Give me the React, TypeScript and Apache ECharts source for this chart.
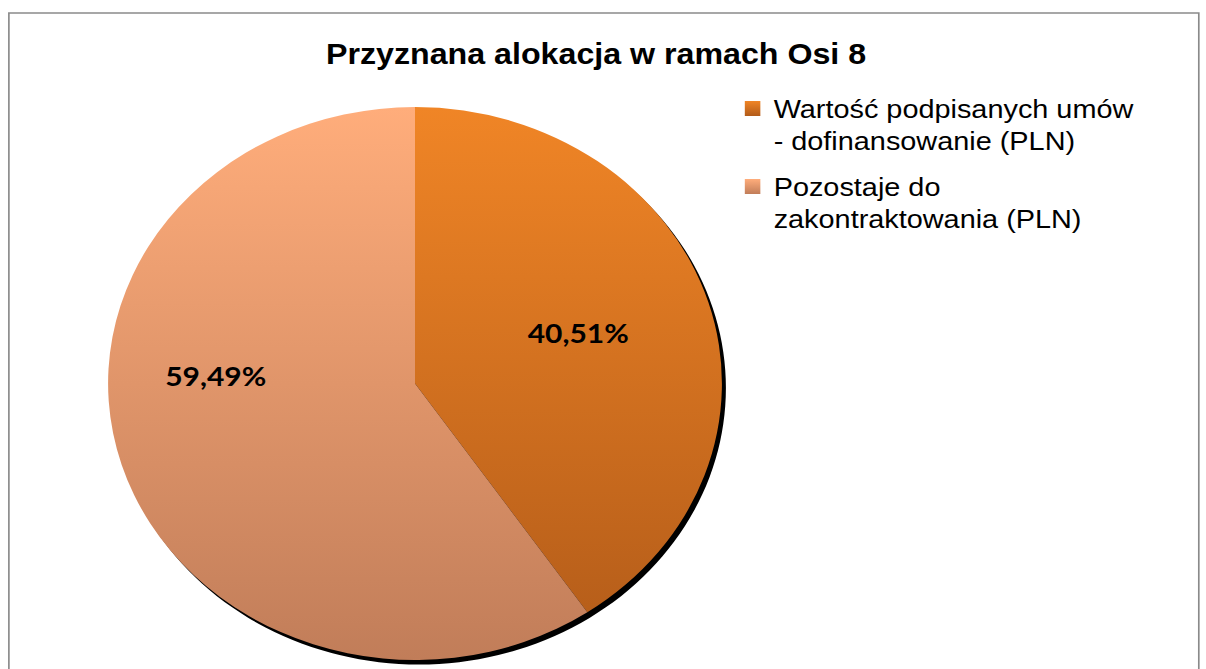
import React, { useEffect, useRef } from "react";
import * as echarts from "echarts";

// ---- data ----
const TITLE = "Przyznana alokacja w ramach Osi 8";
const CATEGORIES = [
  "Wartość podpisanych umów - dofinansowanie (PLN)",
  "Pozostaje do zakontraktowania (PLN)",
];
const LEGEND_LABELS = [
  "Wartość podpisanych umów\n- dofinansowanie (PLN)",
  "Pozostaje do\nzakontraktowania (PLN)",
];
const SHARES = [40.51, 59.49];

// ---- styling / layout ----
const PAGE_W = 1206;
const PAGE_H = 669;
const SX = 1.11; // reference image is horizontally stretched
const INNER_W = Math.round(PAGE_W / SX);
const CX = 415 / SX;
const CY = 383.5;
const R = 276.5;
const GRAD_TOP = CY - R;
const GRAD_BOTTOM = CY + R;
const SLICE_COLORS = [
  ["#F08526", "#B25B19"],
  ["#FFAD7B", "#C17D59"],
];
const LABEL_SHIFT = [
  [12, -9.9],
  [-44.5, -49],
];

function globalGrad(c: string[]) {
  return new echarts.graphic.LinearGradient(
    0, GRAD_TOP, 0, GRAD_BOTTOM,
    [{ offset: 0, color: c[0] }, { offset: 1, color: c[1] }],
    true
  );
}
function localGrad(c: string[]) {
  return new echarts.graphic.LinearGradient(0, 0, 0, 1, [
    { offset: 0, color: c[0] },
    { offset: 1, color: c[1] },
  ]);
}

export default function App() {
  const ref = useRef<HTMLDivElement>(null);
  useEffect(() => {
    document.body.style.margin = "0";
    if (!ref.current) return;
    const chart = echarts.init(ref.current, null, { renderer: "svg" });
    const labelMap: Record<string, string> = {};
    // leading blank line keeps the icon aligned with the first text line
    CATEGORIES.forEach((c, i) => (labelMap[c] = "\n" + LEGEND_LABELS[i]));
    chart.setOption({
      animation: false,
      backgroundColor: "#ffffff",
      title: {
        text: TITLE,
        left: 532,
        textAlign: "center",
        top: 34,
        textStyle: {
          fontFamily: "Liberation Sans, Arial, sans-serif",
          fontWeight: "bold",
          fontSize: 29,
          color: "#000",
        },
      },
      legend: {
        orient: "vertical",
        left: 666,
        top: 54,
        itemWidth: 14,
        itemHeight: 15,
        itemGap: -21,
        icon: "rect",
        data: CATEGORIES.map((name, i) => ({
          name,
          itemStyle: { color: localGrad(SLICE_COLORS[i]) },
        })),
        formatter: (name: string) => labelMap[name] || name,
        textStyle: {
          fontFamily: "Liberation Sans, Arial, sans-serif",
          fontSize: 26,
          lineHeight: 33,
          color: "#000",
          padding: [0, 0, 0, 7],
        },
        selectedMode: false,
      },
      graphic: [
        {
          type: "rect",
          z: -10,
          shape: { x: 8, y: 13, width: 1072, height: 720 },
          style: { fill: "none", stroke: "#8a8a8a", lineWidth: 1.5 },
        },
      ],
      series: [
        {
          type: "pie",
          name: "shadow",
          silent: true,
          z: 1,
          center: [CX + 4 / SX, CY + 4.5],
          radius: [0, R],
          label: { show: false },
          labelLine: { show: false },
          emphasis: { disabled: true },
          itemStyle: { color: "#000" },
          data: [{ name: "", value: 1 }],
        },
        {
          type: "pie",
          name: TITLE,
          z: 2,
          center: [CX, CY],
          radius: [0, R],
          startAngle: 90,
          clockwise: true,
          emphasis: { disabled: true },
          itemStyle: { borderWidth: 0 },
          label: {
            show: true,
            position: "inside",
            color: "#000",
            fontFamily: "Lato, sans-serif",
            fontWeight: "bold",
            fontSize: 27,
            formatter: (p: any) => p.value.toFixed(2).replace(".", ",") + "%",
          },
          labelLine: { show: false },
          labelLayout: (p: any) => ({
            dx: LABEL_SHIFT[p.dataIndex][0],
            dy: LABEL_SHIFT[p.dataIndex][1],
          }),
          data: CATEGORIES.map((name, i) => ({
            name,
            value: SHARES[i],
            itemStyle: { color: globalGrad(SLICE_COLORS[i]) },
          })),
        },
      ],
    });
    return () => chart.dispose();
  }, []);

  return (
    <div
      style={{
        width: PAGE_W,
        height: PAGE_H,
        overflow: "hidden",
        position: "relative",
        background: "#fff",
      }}
    >
      <div
        ref={ref}
        style={{
          width: INNER_W,
          height: PAGE_H,
          transform: `scaleX(${SX})`,
          transformOrigin: "0 0",
        }}
      />
    </div>
  );
}
